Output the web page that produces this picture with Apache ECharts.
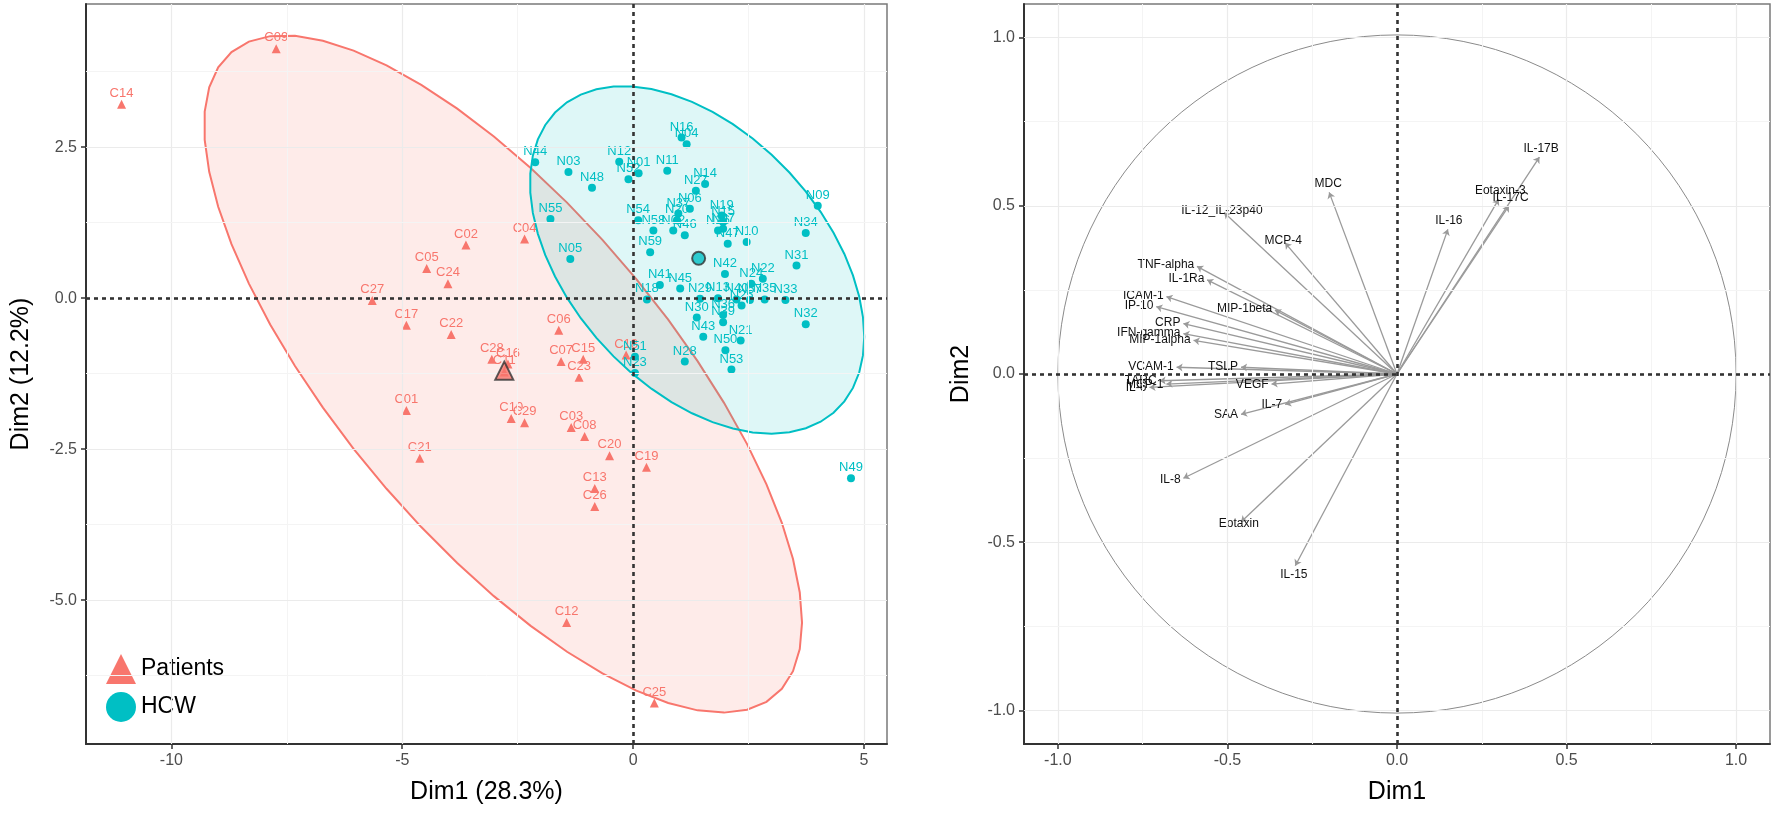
<!DOCTYPE html>
<html>
<head>
<meta charset="utf-8">
<title>PCA</title>
<script src="https://cdn.jsdelivr.net/npm/echarts@6/dist/echarts.min.js"></script>
<style>
  html, body { margin: 0; padding: 0; background: #fff; }
  #main { width: 1772px; height: 814px; }
</style>
</head>
<body>
<div id="main"></div>
<script>
// ---- individuals (left panel) ----
var patientNames = ['C01','C02','C03','C04','C05','C06','C07','C08','C09','C10',
                    'C11','C12','C13','C14','C15','C16','C17','C18','C19','C20',
                    'C21','C22','C23','C24','C25','C26','C27','C28','C29'];
var patientDim1 = [-4.91,-3.62,-1.34,-2.35,-4.47,-1.61,-1.56,-1.05,-7.73,-2.64,
                   -2.79,-1.44,-0.83,-11.08,-1.08,-2.71,-4.91,-0.15,0.29,-0.51,
                   -4.62,-3.94,-1.17,-4.01,0.46,-0.83,-5.65,-3.06,-2.35];
var patientDim2 = [-1.86,0.88,-2.14,0.98,0.49,-0.53,-1.05,-2.29,4.13,-1.99,
                   -1.22,-5.37,-3.15,3.21,-1.01,-1.09,-0.45,-0.94,-2.80,-2.61,
                   -2.65,-0.60,-1.31,0.24,-6.70,-3.45,-0.04,-1.01,-2.06];

var hcwNames = ['N16','N04','N44','N12','N01','N11','N14','N27','N03','N48',
                'N52','N06','N19','N15','N07','N37','N54','N58','N02','N20',
                'N46','N26','N10','N47','N59','N42','N24','N22','N41','N45',
                'N13','N40','N57','N35','N33','N30','N36','N39','N43','N21',
                'N50','N53','N28','N51','N23','N09','N34','N31','N32','N49',
                'N55','N25','N18','N29','N05'];
var hcwDim1 = [1.05,1.16,-2.12,-0.30,0.12,0.74,1.56,1.36,-1.40,-0.89,
               -0.10,1.23,1.92,1.95,1.95,0.98,0.11,0.44,0.87,0.95,
               1.12,1.84,2.46,2.05,0.37,1.99,2.56,2.81,0.58,1.02,
               1.84,2.24,2.53,2.85,3.30,1.38,1.95,1.95,1.52,2.33,
               2.00,2.13,1.12,0.04,0.04,4.00,3.74,3.54,3.74,4.72,
               -1.79,2.35,0.30,1.45,-1.36];
var hcwDim2 = [2.66,2.55,2.25,2.26,2.07,2.11,1.89,1.78,2.09,1.83,
               1.97,1.48,1.37,1.26,1.15,1.40,1.29,1.12,1.12,1.29,
               1.04,1.12,0.93,0.90,0.76,0.40,0.24,0.32,0.22,0.16,
               0.00,-0.02,-0.03,-0.02,-0.03,-0.32,-0.28,-0.40,-0.64,-0.70,
               -0.86,-1.18,-1.05,-0.97,-1.24,1.53,1.08,0.54,-0.43,-2.98,
               1.31,-0.12,-0.02,-0.01,0.65];

// group mean points
var meanDim1 = [-2.79, 1.42];
var meanDim2 = [-1.20, 0.66];

// ---- variables (right panel) ----
var varNames = ['MDC','IL-12_IL-23p40','MCP-4','TNF-alpha','IL-1Ra','MIP-1beta','ICAM-1',
                'IP-10','CRP','IFN-gamma','MIP-1alpha','TSLP','VCAM-1','TARC','MCP-1',
                'VEGF','IL-6','IL-7','SAA','IL-17B','Eotaxin-3','IL-17C','IL-16',
                'IL-8','Eotaxin','IL-15'];
var varDim1 = [-0.20,-0.51,-0.33,-0.59,-0.56,-0.36,-0.68,
               -0.71,-0.63,-0.63,-0.60,-0.46,-0.65,-0.70,-0.68,
               -0.37,-0.73,-0.33,-0.46,0.42,0.30,0.33,0.15,
               -0.63,-0.46,-0.30];
var varDim2 = [0.54,0.48,0.39,0.32,0.28,0.19,0.23,
               0.20,0.15,0.12,0.10,0.02,0.02,-0.02,-0.03,
               -0.03,-0.04,-0.09,-0.12,0.645,0.52,0.50,0.43,
               -0.31,-0.44,-0.57];

// ---- ticks / grid ----
var leftXTicks = [-10, -5, 0, 5];
var leftXMinor = [-7.5, -2.5, 2.5];
var leftYTicks = [-5, -2.5, 0, 2.5];
var leftYMinor = [-6.25, -3.75, -1.25, 1.25, 3.75];
var rightTicks = [-1, -0.5, 0, 0.5, 1];
var rightMinor = [-0.75, -0.25, 0.25, 0.75];

var RED = '#F8766D', TEAL = '#00BFC4';
var FONT = 'Liberation Sans, Arial, sans-serif';

// 95% normal data ellipse, as stat_ellipse(type = "norm") does it
function dataEllipse(xs, ys, level) {
  var n = xs.length, mx = 0, my = 0;
  for (var i = 0; i < n; i++) { mx += xs[i]; my += ys[i]; }
  mx /= n; my /= n;
  var sxx = 0, syy = 0, sxy = 0;
  for (i = 0; i < n; i++) {
    sxx += (xs[i]-mx)*(xs[i]-mx);
    syy += (ys[i]-my)*(ys[i]-my);
    sxy += (xs[i]-mx)*(ys[i]-my);
  }
  sxx /= (n-1); syy /= (n-1); sxy /= (n-1);
  var d = n - 1;
  var qf = (d/2) * (Math.pow(1-level, -2/d) - 1);
  var r = Math.sqrt(2 * qf);
  var a = Math.sqrt(sxx), b = sxy / a, c = Math.sqrt(syy - b*b);
  var pts = [];
  for (var k = 0; k < 52; k++) {
    var t = 2 * Math.PI * k / 51;
    pts.push([mx + r * Math.cos(t) * a, my + r * (Math.cos(t) * b + Math.sin(t) * c)]);
  }
  return pts;
}

var redEllipse = dataEllipse(patientDim1, patientDim2, 0.95);
var tealEllipse = dataEllipse(hcwDim1, hcwDim2, 0.95);

function ellipseSeries(pts, color, fill) {
  return {
    type: 'custom', xAxisIndex: 0, yAxisIndex: 0, silent: true, z: 1,
    data: [[0, 0]],
    renderItem: function (params, api) {
      return {
        type: 'polygon',
        shape: { points: pts.map(function (p) { return api.coord(p); }) },
        style: { fill: fill, stroke: color, lineWidth: 2 }
      };
    }
  };
}

function gridLines(ax, xMaj, xMin, yMaj, yMin) {
  var d = [];
  xMaj.forEach(function (v) { if (v !== 0) d.push({ xAxis: v, lineStyle: { color: '#ebebeb', width: 1.2, type: 'solid' } }); });
  xMin.forEach(function (v) { d.push({ xAxis: v, lineStyle: { color: '#f4f4f4', width: 1, type: 'solid' } }); });
  yMaj.forEach(function (v) { if (v !== 0) d.push({ yAxis: v, lineStyle: { color: '#ebebeb', width: 1.2, type: 'solid' } }); });
  yMin.forEach(function (v) { d.push({ yAxis: v, lineStyle: { color: '#f4f4f4', width: 1, type: 'solid' } }); });
  return {
    type: 'line', xAxisIndex: ax, yAxisIndex: ax, data: [], silent: true, z: 0,
    markLine: { symbol: ['none', 'none'], silent: true, label: { show: false }, animation: false,
                lineStyle: { type: 'solid' }, data: d }
  };
}

function zeroLines(ax, z) {
  return {
    type: 'line', xAxisIndex: ax, yAxisIndex: ax, data: [], silent: true, z: z,
    markLine: {
      symbol: ['none', 'none'], silent: true, label: { show: false }, animation: false,
      lineStyle: { color: '#333', width: 2.6, type: [4, 4] },
      data: [{ xAxis: 0 }, { yAxis: 0 }]
    }
  };
}

function valueAxis(grid, min, max, ticks, fmt, name, nameGap, rotate) {
  return {
    type: 'value', gridIndex: grid, min: min, max: max,
    name: name, nameLocation: 'middle', nameGap: nameGap, nameRotate: rotate,
    nameTextStyle: { fontSize: 25, color: '#000', fontFamily: FONT },
    axisLine: { show: true, onZero: false, lineStyle: { color: '#333', width: 2 } },
    axisTick: { show: true, customValues: ticks, length: 5, lineStyle: { color: '#333', width: 1.5 } },
    axisLabel: { customValues: ticks, formatter: fmt, color: '#4d4d4d', fontSize: 16, margin: 9, fontFamily: FONT },
    splitLine: { show: false }
  };
}

var myChart = echarts.init(document.getElementById('main'));

var option = {
  animation: false,
  textStyle: { fontFamily: FONT },
  grid: [
    { left: 86, top: 4, right: 885, bottom: 70, show: true, borderColor: '#7a7a7a', borderWidth: 1.5 },
    { left: 1024, top: 4, right: 2, bottom: 70, show: true, borderColor: '#7a7a7a', borderWidth: 1.5 }
  ],
  xAxis: [
    valueAxis(0, -11.85, 5.5, leftXTicks, function (v) { return String(v); }, 'Dim1 (28.3%)', 36, 0),
    valueAxis(1, -1.1, 1.1, rightTicks, function (v) { return v.toFixed(1); }, 'Dim1', 36, 0)
  ],
  yAxis: [
    valueAxis(0, -7.38, 4.87, leftYTicks, function (v) { return v.toFixed(1); }, 'Dim2 (12.2%)', 52, 90),
    valueAxis(1, -1.1, 1.1, rightTicks, function (v) { return v.toFixed(1); }, 'Dim2', 50, 90)
  ],
  legend: {
    data: [{ name: 'Patients', icon: 'triangle' }, { name: 'HCW', icon: 'circle' }],
    orient: 'vertical', left: 102, top: 650,
    backgroundColor: '#fff', padding: [4, 6, 4, 4],
    itemWidth: 30, itemHeight: 30, itemGap: 8,
    itemStyle: { borderWidth: 0 },
    textStyle: { fontSize: 23, color: '#000', fontFamily: FONT }
  },
  series: [
    gridLines(0, leftXTicks, leftXMinor, leftYTicks, leftYMinor),
    gridLines(1, rightTicks, rightMinor, rightTicks, rightMinor),
    ellipseSeries(redEllipse, RED, 'rgba(248,118,109,0.15)'),
    ellipseSeries(tealEllipse, TEAL, 'rgba(0,191,196,0.13)'),
    zeroLines(0, 2),
    zeroLines(1, 2),
    {
      name: 'Patients', type: 'scatter', xAxisIndex: 0, yAxisIndex: 0, z: 4,
      symbol: 'triangle', symbolSize: 9,
      itemStyle: { color: RED, opacity: 1 },
      label: { show: true, position: 'top', distance: 0, color: RED, fontSize: 13,
               formatter: function (p) { return p.data[2]; } },
      data: patientNames.map(function (n, i) { return [patientDim1[i], patientDim2[i], n]; })
    },
    {
      name: 'HCW', type: 'scatter', xAxisIndex: 0, yAxisIndex: 0, z: 4,
      symbol: 'circle', symbolSize: 8,
      itemStyle: { color: TEAL, opacity: 1 },
      label: { show: true, position: 'top', distance: 0, color: TEAL, fontSize: 13,
               formatter: function (p) { return p.data[2]; } },
      data: hcwNames.map(function (n, i) { return [hcwDim1[i], hcwDim2[i], n]; })
    },
    {
      type: 'scatter', xAxisIndex: 0, yAxisIndex: 0, z: 5, silent: true,
      symbol: 'triangle', symbolSize: 18,
      itemStyle: { color: RED, borderColor: '#333', borderWidth: 2 },
      data: [[meanDim1[0], meanDim2[0]]]
    },
    {
      type: 'scatter', xAxisIndex: 0, yAxisIndex: 0, z: 5, silent: true,
      symbol: 'circle', symbolSize: 13,
      itemStyle: { color: TEAL, borderColor: '#333', borderWidth: 2 },
      data: [[meanDim1[1], meanDim2[1]]]
    },
    {
      type: 'custom', xAxisIndex: 1, yAxisIndex: 1, silent: true, z: 1,
      data: [[0, 0]],
      renderItem: function (params, api) {
        var c = api.coord([0, 0]);
        var e = api.coord([1, 0]);
        return { type: 'circle', shape: { cx: c[0], cy: c[1], r: e[0] - c[0] },
                 style: { fill: 'none', stroke: '#8a8a8a', lineWidth: 1 } };
      }
    },
    {
      type: 'lines', coordinateSystem: 'cartesian2d', xAxisIndex: 1, yAxisIndex: 1, z: 3,
      symbol: ['none', 'arrow'], symbolSize: 6,
      lineStyle: { color: '#9a9a9a', width: 1.3, opacity: 1 },
      label: { show: true, position: 'end', distance: 3, formatter: '{b}',
               color: '#111', fontSize: 12 },
      data: varNames.map(function (n, i) {
        return { name: n, coords: [[0, 0], [varDim1[i], varDim2[i]]] };
      })
    }
  ]
};

myChart.setOption(option);
</script>
</body>
</html>
